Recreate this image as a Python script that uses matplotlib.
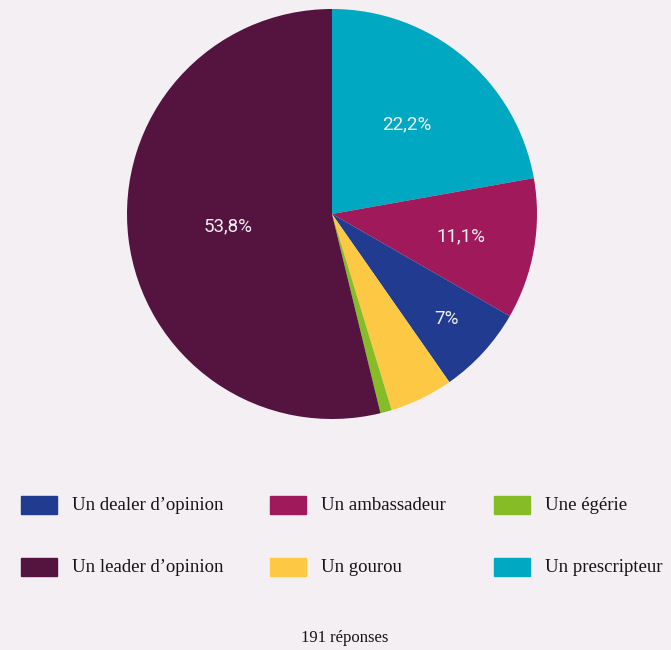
import numpy as np
import matplotlib
matplotlib.use('Agg')
import matplotlib.pyplot as plt
from matplotlib.patches import Rectangle

# Données du sondage (ordre horaire depuis le haut)
labels = ['Un prescripteur', 'Un ambassadeur', 'Un dealer d\u2019opinion',
          'Un gourou', 'Une égérie', 'Un leader d\u2019opinion']
values = [22.2, 11.1, 7.0, 5.0, 0.9, 53.8]
pct_text = ['22,2%', '11,1%', '7%', '', '', '53,8%']
colors = ['#00A8C2', '#A0195A', '#203B8F', '#FDC843', '#86BC26', '#54143F']

# Ordre de la légende
legend_order = ['Un dealer d\u2019opinion', 'Un ambassadeur', 'Une égérie',
                'Un leader d\u2019opinion', 'Un gourou', 'Un prescripteur']
total_txt = '191 réponses'

bg = '#F4EFF3'
serif = ['Liberation Serif', 'DejaVu Serif']

W, H = 671, 650
fig = plt.figure(figsize=(W / 100, H / 100), dpi=100, facecolor=bg)

# Camembert
cx, cy, r = 332, 214, 205
ax = fig.add_axes([(cx - r) / W, 1 - (cy + r) / H, 2 * r / W, 2 * r / H])
ax.set_facecolor(bg)
wedges, _ = ax.pie(values, colors=colors, startangle=90, counterclock=False,
                   radius=1, wedgeprops=dict(linewidth=0))
ax.set_xlim(-1, 1)
ax.set_ylim(-1, 1)
ax.axis('off')

# Pourcentages à l'intérieur des parts
dist = [0.57, 0.64, 0.76, 0.6, 0.6, 0.51]
for w, t, d in zip(wedges, pct_text, dist):
    if not t:
        continue
    a = np.deg2rad((w.theta1 + w.theta2) / 2)
    ax.text(d * np.cos(a), d * np.sin(a), t, ha='center', va='center',
            color='#F0F0F0', fontsize=13.5, family=['Roboto', 'DejaVu Sans'])

# Légende sur deux lignes
col_x = [21, 270, 494]
row_y = [505, 567]
for i, name in enumerate(legend_order):
    x = col_x[i % 3]
    y = row_y[i // 3]
    c = colors[labels.index(name)]
    fig.patches.append(Rectangle((x / W, 1 - (y + 9) / H), 36 / W, 18 / H,
                                 transform=fig.transFigure, color=c))
    fig.text((x + 51) / W, 1 - (y + 1) / H, name, ha='left', va='center',
             fontsize=13.5, family=serif, color='#141414')

fig.text(345 / W, 1 - 638 / H, total_txt, ha='center', va='center',
         fontsize=12, family=serif, color='#141414')

fig.savefig('out.png', dpi=100, facecolor=bg)
